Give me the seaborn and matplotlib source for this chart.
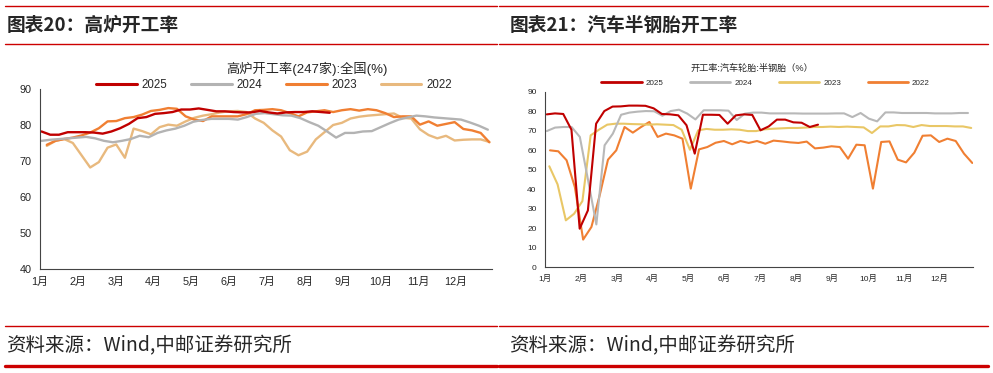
import numpy as np
import pandas as pd
import matplotlib
matplotlib.use('Agg')
import matplotlib.pyplot as plt
import seaborn as sns
from matplotlib.lines import Line2D

# month tick labels, shared by both panels
months = [f'{m}月' for m in range(1, 13)]
years = ['2025', '2024', '2023', '2022']

# 高炉开工率(247家):全国(%) -- weekly readings
bf_2025 = [78.2, 77.3, 77.3, 78.0, 78.0, 78.0, 77.9, 77.6, 78.2, 79.1, 80.3, 81.9, 82.2, 83.1,
           83.3, 83.6, 84.3, 84.3, 84.6, 84.2, 83.8, 83.8, 83.6, 83.5, 83.5, 83.9, 83.5, 83.2,
           83.5, 83.6, 83.6, 83.8, 83.6, 83.4]
bf_2024 = [75.6, 75.9, 76.1, 76.3, 76.5, 76.7, 76.3, 75.6, 75.2, 75.6, 76.1, 77.0, 76.6, 77.8,
           78.5, 79.0, 79.8, 80.9, 81.4, 81.7, 81.7, 81.7, 81.5, 82.2, 83.1, 83.3, 83.0, 82.7,
           82.6, 81.9, 80.8, 79.8, 78.2, 76.5, 77.8, 77.8, 78.2, 78.3, 79.4, 80.5, 81.5, 82.1,
           82.6, 82.4, 82.1, 81.9, 81.7, 81.5, 80.7, 79.8, 78.7]
bf_2023 = [74.5, 75.6, 76.1, 76.5, 77.1, 77.9, 79.1, 81.0, 81.1, 81.9, 82.2, 82.9, 83.9, 84.2,
           84.7, 84.5, 82.4, 81.5, 81.1, 82.4, 82.4, 82.4, 82.4, 83.0, 84.1, 84.2, 84.4, 84.1,
           83.3, 82.4, 83.5, 83.8, 84.1, 83.6, 84.1, 84.4, 84.0, 84.4, 84.1, 83.3, 82.2, 82.4,
           82.4, 80.1, 81.0, 79.8, 80.3, 80.8, 78.9, 78.5, 77.8, 75.2]
bf_2022 = [74.2, 75.6, 76.1, 75.0, 71.6, 68.2, 69.7, 73.7, 74.6, 70.9, 79.0, 78.3, 77.4, 79.4,
           80.1, 79.8, 81.0, 82.0, 82.6, 83.0, 83.5, 83.8, 83.9, 83.6, 81.8, 80.6, 78.5, 76.8,
           73.0, 71.6, 72.6, 76.0, 78.0, 80.0, 80.6, 81.8, 82.3, 82.6, 82.8, 83.0, 83.2, 82.0,
           81.8, 78.8, 77.2, 76.3, 77.0, 75.7, 75.9, 76.0, 76.0, 75.3]
# first / last week position, in months from 1 Jan
bf_span = {'2025': (0.04, 7.66), '2024': (0.04, 11.84),
           '2023': (0.18, 11.88), '2022': (0.18, 11.88)}

# 开工率:汽车轮胎:半钢胎(%) -- weekly readings
tr_2025 = [78.5, 79.0, 78.7, 70.6, 19.7, 29.1, 73.7, 80.2, 82.5, 82.6, 83.0, 83.0, 82.9, 81.6,
           78.7, 78.5, 78.0, 72.9, 58.3, 78.3, 78.3, 78.2, 73.7, 78.0, 78.5, 78.2, 70.3, 72.3,
           75.8, 75.8, 74.4, 74.2, 72.0, 73.2]
tr_2024 = [69.9, 71.7, 72.0, 72.0, 66.9, 44.6, 21.9, 62.6, 68.6, 78.3, 79.4, 79.9, 80.2, 80.1,
           77.8, 80.2, 80.9, 78.9, 75.9, 80.6, 80.6, 80.6, 80.4, 75.6, 78.9, 79.4, 79.4, 79.0,
           79.0, 79.0, 79.0, 78.9, 78.9, 78.9, 78.9, 79.0, 79.0, 77.1, 79.2, 76.3, 74.9, 79.5,
           79.5, 79.2, 79.2, 79.2, 79.2, 79.0, 79.0, 79.0, 79.2, 79.2]
tr_2023 = [51.8, 42.5, 24.0, 27.4, 33.9, 67.7, 70.6, 73.2, 73.7, 73.7, 73.5, 73.4, 73.2, 73.4,
           73.2, 73.0, 70.6, 60.3, 70.3, 71.0, 70.6, 70.6, 70.8, 70.6, 69.9, 69.9, 70.8, 71.1,
           71.3, 71.5, 71.5, 71.7, 72.0, 72.0, 72.2, 72.0, 72.2, 72.0, 71.8, 68.9, 72.3, 72.3,
           73.0, 72.9, 72.0, 73.0, 72.5, 72.5, 72.5, 72.3, 72.3, 71.5]
tr_2022 = [60.0, 59.5, 54.9, 41.1, 14.1, 20.6, 36.9, 55.2, 60.0, 72.0, 69.1, 72.0, 74.6, 66.9,
           68.6, 67.7, 66.0, 40.3, 60.5, 61.7, 63.9, 64.8, 63.1, 64.8, 63.8, 64.8, 63.4, 65.0,
           64.6, 64.1, 63.8, 64.5, 61.0, 61.4, 62.1, 61.7, 55.7, 62.9, 62.6, 40.3, 64.3, 64.6,
           55.2, 53.8, 58.8, 67.5, 67.7, 64.3, 66.0, 64.8, 58.3, 53.5]
tr_span = {'2025': (0.05, 7.61), '2024': (0.05, 11.79),
           '2023': (0.12, 11.88), '2022': (0.14, 11.91)}

RED = '#C00000'
bf_colors = {'2025': RED, '2024': '#B3B3B3', '2023': '#F07F32', '2022': '#E8B97E'}
tr_colors = {'2025': RED, '2024': '#B8B8B8', '2023': '#E9C766', '2022': '#F07F32'}


def long_df(series, spans):
    frames = []
    for y in years:
        a, b = spans[y]
        v = series[y]
        frames.append(pd.DataFrame({'pos': np.linspace(a, b, len(v)), 'val': v, 'year': y}))
    return pd.concat(frames, ignore_index=True)


df_bf = long_df({'2025': bf_2025, '2024': bf_2024, '2023': bf_2023, '2022': bf_2022}, bf_span)
df_tr = long_df({'2025': tr_2025, '2024': tr_2024, '2023': tr_2023, '2022': tr_2022}, tr_span)

sns.set_style('white')
plt.rcParams['font.family'] = ['Liberation Sans', 'Noto Sans CJK SC']

fig = plt.figure(figsize=(9.93, 3.73), dpi=100)

# frame lines and headings
for x0, x1 in [(0.005, 0.500), (0.503, 0.995)]:
    for yy, lw in [(0.985, 1.0), (0.883, 1.0), (0.127, 1.0), (0.020, 2.4)]:
        fig.add_artist(Line2D([x0, x1], [yy, yy], transform=fig.transFigure, color='#CC0000', lw=lw))

fig.text(0.007, 0.933, '图表20：高炉开工率', fontsize=13.5, fontweight='bold', va='center',
         family=['Noto Sans CJK SC'])
fig.text(0.513, 0.933, '图表21：汽车半钢胎开工率', fontsize=13.5, fontweight='bold', va='center',
         family=['Noto Sans CJK SC'])
fig.text(0.006, 0.074, '资料来源：Wind,中邮证券研究所', fontsize=14, va='center',
         family=['Noto Sans CJK SC'])
fig.text(0.513, 0.074, '资料来源：Wind,中邮证券研究所', fontsize=14, va='center',
         family=['Noto Sans CJK SC'])

# left panel: blast furnace
ax1 = fig.add_axes([40 / 993, 1 - 269 / 373, 452 / 993, 180 / 373])
sns.lineplot(data=df_bf, x='pos', y='val', hue='year', hue_order=years[::-1],
             palette=bf_colors, estimator=None, sort=False, lw=1.7, legend=False, ax=ax1)
ax1.set_xlim(0, 11.95)
ax1.set_ylim(40, 90)
ax1.set_yticks(range(40, 91, 10))
ax1.set_xticks(range(12))
ax1.set_xticklabels(months)
ax1.tick_params(direction='in', length=3, width=0.8, color='#444444', labelsize=7.8, pad=6)
ax1.set_xlabel('')
ax1.set_ylabel('')
fig.text(0.309, 0.815, '高炉开工率(247家):全国(%)', fontsize=9.5, ha='center', va='center')
h1 = [Line2D([], [], color=bf_colors[y], lw=2.2) for y in years]
ax1.legend(h1, years, loc='center', bbox_to_anchor=(0.276, 0.772), bbox_transform=fig.transFigure,
           ncol=4, frameon=False, fontsize=8.3, handlelength=3.5, handletextpad=0.4,
           columnspacing=2.1, borderpad=0)

# right panel: semi-steel tyres
ax2 = fig.add_axes([545 / 993, 1 - 267 / 373, 428 / 993, 175 / 373])
sns.lineplot(data=df_tr, x='pos', y='val', hue='year', hue_order=years[::-1],
             palette=tr_colors, estimator=None, sort=False, lw=1.5, legend=False, ax=ax2)
ax2.set_xlim(0, 11.93)
ax2.set_ylim(0, 90)
ax2.set_yticks(range(0, 91, 10))
ax2.set_xticks(range(12))
ax2.set_xticklabels(months)
ax2.tick_params(axis='y', direction='out', length=3, width=0.8, color='#444444', labelsize=6, pad=3)
ax2.tick_params(axis='x', direction='in', length=2, width=0.8, color='#444444', labelsize=6, pad=6)
ax2.set_xlabel('')
ax2.set_ylabel('')
fig.text(0.757, 0.818, '开工率:汽车轮胎:半钢胎（%）', fontsize=6.6, ha='center', va='center')
h2 = [Line2D([], [], color=tr_colors[y], lw=2.0) for y in years]
ax2.legend(h2, years, loc='center', bbox_to_anchor=(0.771, 0.777), bbox_transform=fig.transFigure,
           ncol=4, frameon=False, fontsize=5.8, handlelength=5.0, handletextpad=0.5,
           columnspacing=3.3, borderpad=0)

for ax in (ax1, ax2):
    sns.despine(ax=ax)
    for s in ('left', 'bottom'):
        ax.spines[s].set_color('#444444')
        ax.spines[s].set_linewidth(0.8)

fig.savefig('out.png', dpi=100)
